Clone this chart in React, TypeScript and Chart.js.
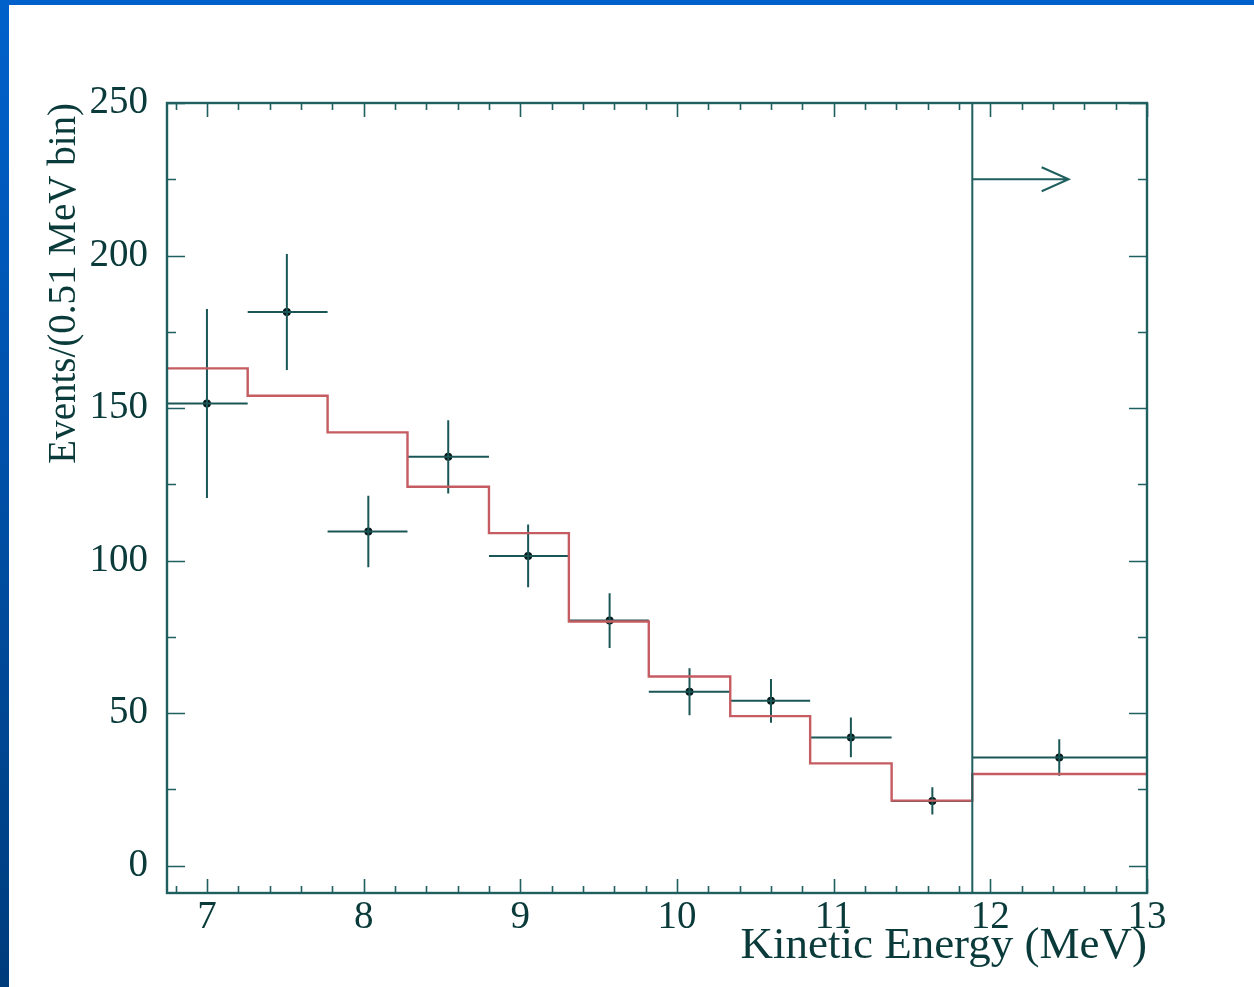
import React, { useEffect, useRef } from "react";
import { Chart, registerables } from "chart.js";

Chart.register(...registerables);

// ---- data ----
const BIN_EDGES = [6.745, 7.26, 7.77, 8.28, 8.8, 9.31, 9.82, 10.34, 10.85, 11.37, 11.885, 13];
const HIST_VALUES = [163, 154, 142, 124.2, 109, 80, 62, 49, 33.5, 21.3, 30];
const DATA_X = [7.0, 7.51, 8.03, 8.54, 9.05, 9.57, 10.08, 10.6, 11.11, 11.63, 12.44];
const DATA_Y = [151.5, 181.5, 109.5, 134, 101.5, 80.3, 57, 54, 42, 21.2, 35.4];
const DATA_ERR = [31, 19, 11.7, 12, 10.3, 9, 7.7, 7.2, 6.5, 4.5, 6];
const X_TICKS = [7, 8, 9, 10, 11, 12, 13];
const Y_TICKS = [0, 50, 100, 150, 200, 250];
const X_RANGE = [6.745, 13];
const Y_RANGE = [-9, 250];
const CUT_ENERGY = 11.885;
const ARROW_Y = 225;
const ARROW_END = 12.5;
const X_TITLE = "Kinetic Energy (MeV)";
const Y_TITLE = "Events/(0.51 MeV bin)";

const AXIS_COLOR = "#1f5f5f";
const TEXT_COLOR = "#0a3a3a";
const HIST_COLOR = "#c45c62";
const ERR_COLOR = "#1a5656";
const POINT_COLOR = "#061616";
const FONT = "'Liberation Serif', 'DejaVu Serif', serif";

const framePlugin = {
  id: "frame",
  afterDatasetsDraw(chart: any) {
    const { ctx, chartArea: a, scales } = chart;
    const x = scales.x;
    const y = scales.y;
    ctx.save();
    ctx.strokeStyle = AXIS_COLOR;
    ctx.lineCap = "butt";
    // minor/major ticks (inside)
    ctx.lineWidth = 1.6;
    ctx.beginPath();
    for (let v = 6.8; v <= 13.001; v += 0.2) {
      const isMajor = Math.abs(v - Math.round(v)) < 1e-6;
      const len = isMajor ? 14 : 7;
      const px = Math.round(x.getPixelForValue(v)) + 0.5;
      ctx.moveTo(px, a.bottom);
      ctx.lineTo(px, a.bottom - len);
      ctx.moveTo(px, a.top);
      ctx.lineTo(px, a.top + len);
    }
    for (let v = 0; v <= 250.001; v += 25) {
      const isMajor = v % 50 === 0;
      const len = isMajor ? 18 : 9;
      const py = Math.round(y.getPixelForValue(v)) + 0.5;
      ctx.moveTo(a.left, py);
      ctx.lineTo(a.left + len, py);
      ctx.moveTo(a.right, py);
      ctx.lineTo(a.right - len, py);
    }
    ctx.stroke();

    // cut line and arrow
    ctx.lineWidth = 2;
    const cx = x.getPixelForValue(CUT_ENERGY);
    ctx.beginPath();
    ctx.moveTo(cx, a.top);
    ctx.lineTo(cx, a.bottom);
    const ay = y.getPixelForValue(ARROW_Y);
    const ax = x.getPixelForValue(ARROW_END);
    ctx.moveTo(cx, ay);
    ctx.lineTo(ax, ay);
    ctx.moveTo(ax - 27, ay - 12);
    ctx.lineTo(ax, ay);
    ctx.lineTo(ax - 27, ay + 12);
    ctx.stroke();

    // frame
    ctx.lineWidth = 2.4;
    ctx.strokeRect(a.left, a.top, a.right - a.left, a.bottom - a.top);
    ctx.restore();
  },
};

export default function App() {
  const ref = useRef<HTMLCanvasElement | null>(null);

  useEffect(() => {
    if (!ref.current) return;

    const histData = HIST_VALUES.map((v, i) => ({ x: BIN_EDGES[i], y: v }));
    histData.push({ x: BIN_EDGES[BIN_EDGES.length - 1], y: HIST_VALUES[HIST_VALUES.length - 1] });

    const errData: { x: number; y: number | null }[] = [];
    DATA_Y.forEach((v, i) => {
      errData.push({ x: BIN_EDGES[i], y: v });
      errData.push({ x: BIN_EDGES[i + 1], y: v });
      errData.push({ x: DATA_X[i], y: null });
      errData.push({ x: DATA_X[i], y: v - DATA_ERR[i] });
      errData.push({ x: DATA_X[i], y: v + DATA_ERR[i] });
      errData.push({ x: DATA_X[i], y: null });
    });

    const pointData = DATA_Y.map((v, i) => ({ x: DATA_X[i], y: v }));

    const chart = new Chart(ref.current, {
      type: "scatter",
      data: {
        datasets: [
          {
            label: "histogram",
            data: histData,
            showLine: true,
            stepped: true,
            borderColor: HIST_COLOR,
            borderWidth: 2.4,
            pointRadius: 0,
            fill: false,
          } as any,
          {
            label: "errors",
            data: errData,
            showLine: true,
            spanGaps: false,
            borderColor: ERR_COLOR,
            borderWidth: 2,
            pointRadius: 0,
            fill: false,
          } as any,
          {
            label: "data",
            data: pointData,
            pointRadius: 4,
            backgroundColor: POINT_COLOR,
            borderWidth: 0,
          } as any,
        ],
      },
      options: {
        responsive: false,
        devicePixelRatio: 1,
        animation: false,
        layout: { padding: { left: 0, top: 98, right: 107, bottom: 0 } },
        plugins: { legend: { display: false }, tooltip: { enabled: false } },
        scales: {
          x: {
            type: "linear",
            min: X_RANGE[0],
            max: X_RANGE[1],
            grid: { display: false, drawTicks: false },
            border: { display: false },
            afterBuildTicks: (s: any) => {
              s.ticks = X_TICKS.map((v) => ({ value: v }));
            },
            afterFit: (s: any) => {
              s.height = 94;
            },
            ticks: {
              autoSkip: false,
              maxRotation: 0,
              padding: 1,
              color: TEXT_COLOR,
              font: { family: FONT, size: 39 },
              callback: (v: any) => String(v),
            },
            title: {
              display: true,
              text: X_TITLE,
              align: "end",
              color: TEXT_COLOR,
              font: { family: FONT, size: 45 },
              padding: { top: 0, bottom: 14 },
            },
          },
          y: {
            type: "linear",
            min: Y_RANGE[0],
            max: Y_RANGE[1],
            grid: { display: false, drawTicks: false },
            border: { display: false },
            afterBuildTicks: (s: any) => {
              s.ticks = Y_TICKS.map((v) => ({ value: v }));
            },
            afterFit: (s: any) => {
              s.width = 158;
            },
            ticks: {
              autoSkip: false,
              padding: 19,
              color: TEXT_COLOR,
              font: { family: FONT, size: 39 },
              callback: (v: any) => String(v),
            },
            title: {
              display: true,
              text: Y_TITLE,
              align: "end",
              color: TEXT_COLOR,
              font: { family: FONT, size: 39 },
              padding: { top: 32, bottom: 0 },
            },
          },
        },
      },
      plugins: [framePlugin],
    });

    return () => chart.destroy();
  }, []);

  return (
    <div
      style={{
        position: "fixed",
        left: 0,
        top: 0,
        width: 1254,
        height: 987,
        overflow: "hidden",
        background: "linear-gradient(180deg, #0061cb 0%, #004fa6 50%, #003c7c 100%)",
      }}
    >
      <div
        style={{
          position: "absolute",
          left: 9,
          top: 5,
          width: 1245,
          height: 982,
          background: "#ffffff",
        }}
      >
        <canvas ref={ref} width={1245} height={982} style={{ display: "block", width: 1245, height: 982 }} />
      </div>
    </div>
  );
}
